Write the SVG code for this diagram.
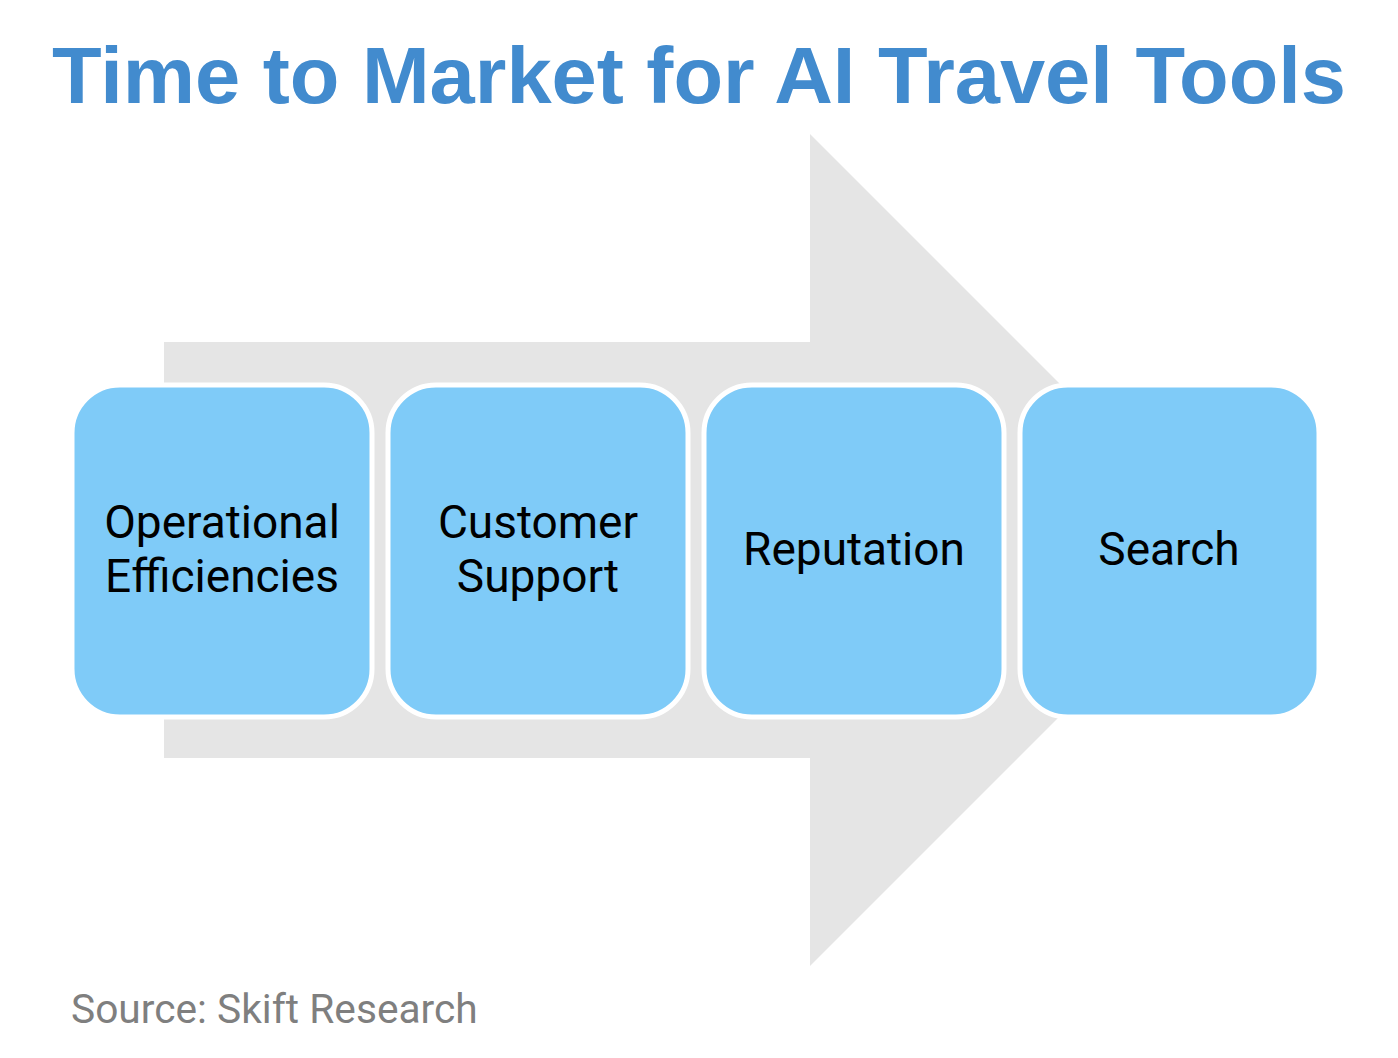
<svg xmlns="http://www.w3.org/2000/svg" width="1398" height="1058" viewBox="0 0 1398 1058">
<style>
.title{font-family:"Liberation Sans",Arial,sans-serif;font-weight:bold;font-size:80px;fill:#428BCE}
.box{fill:#7FCBF8;stroke:#FFFFFF;stroke-width:5}
.lbl{font-family:Roboto,"Liberation Sans",sans-serif;font-size:46px;fill:#000000;text-anchor:middle}
.src{font-family:Roboto,"Liberation Sans",sans-serif;font-size:40.7px;fill:#7F7F7F}
</style>
<rect width="1398" height="1058" fill="#FFFFFF"/>
<text class="title" x="52" y="103" textLength="1294" lengthAdjust="spacingAndGlyphs">Time to Market for AI Travel Tools</text>
<g id="arrow">
<polygon points="164,342 810,342 810,134 1226,550 810,966 810,758 164,758" fill="#E5E5E5"/>
</g>
<g id="connectors"></g>
<g id="node1">
<rect class="box" x="72" y="385" width="300" height="332" rx="48"/>
<text class="lbl" x="222" y="538">Operational</text>
<text class="lbl" x="222" y="592">Efficiencies</text>
</g>
<g id="node2">
<rect class="box" x="388" y="385" width="300" height="332" rx="48"/>
<text class="lbl" x="538" y="538">Customer</text>
<text class="lbl" x="538" y="592">Support</text>
</g>
<g id="node3">
<rect class="box" x="704" y="385" width="300" height="332" rx="48"/>
<text class="lbl" x="854" y="565">Reputation</text>
</g>
<g id="node4">
<rect class="box" x="1020" y="385" width="299" height="332" rx="48"/>
<text class="lbl" x="1169" y="565">Search</text>
</g>
<text class="src" x="71" y="1023">Source: Skift Research</text>
</svg>
